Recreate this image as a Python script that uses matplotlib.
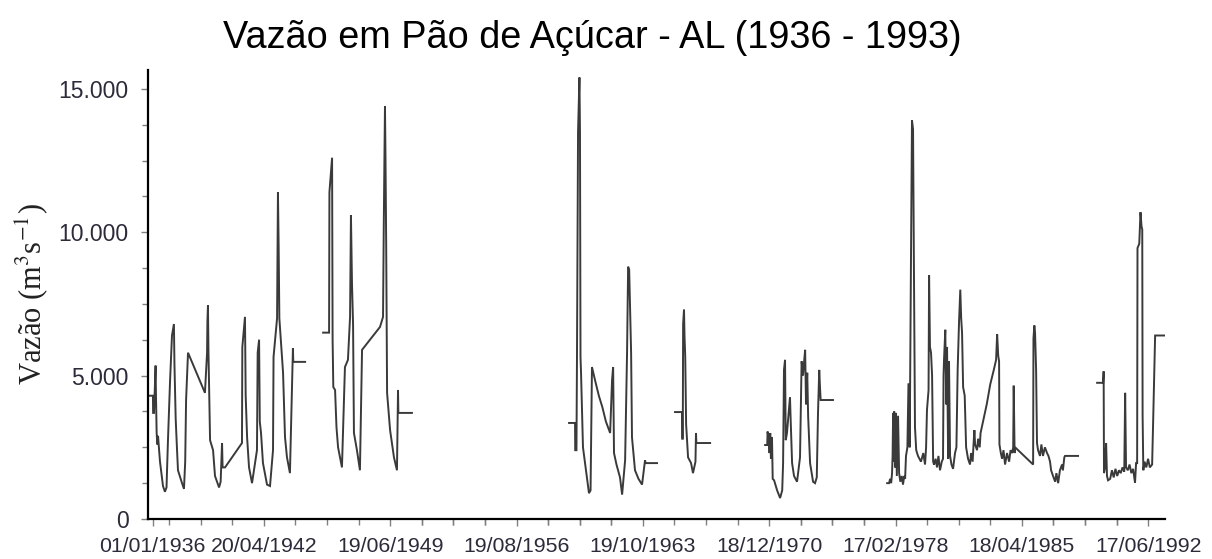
import matplotlib
matplotlib.use('Agg')
import matplotlib.pyplot as plt
import numpy as np
from datetime import date

plt.rcParams['mathtext.fontset'] = 'stix'

# Daily discharge (decimal year, m3/s); gaps = no data
anos_1936 = [1935.84, 1936.01, 1936.02, 1936.07, 1936.16, 1936.18, 1936.22, 1936.26, 1936.30,
             1936.36, 1936.41, 1936.47, 1936.58, 1936.69, 1936.78, 1936.86, 1936.98, 1937.09,
             1937.20, 1937.23, 1937.30, 1937.37, 1937.43, 1937.66, 1937.77, 1937.84, 1937.89,
             1938.00, 1938.96, 1939.08, 1939.10, 1939.13, 1939.16, 1939.25, 1939.42, 1939.53,
             1939.76, 1939.85, 1939.93, 1939.96, 1940.10, 1941.06, 1941.08, 1941.23, 1941.27,
             1941.35, 1941.46, 1941.63, 1941.91, 1941.95, 1942.03, 1942.07, 1942.14, 1942.25,
             1942.48, 1942.65, 1942.82, 1942.85, 1943.05, 1943.10, 1943.14, 1943.18, 1943.39,
             1943.50, 1943.61, 1943.78, 1943.95, 1943.97, 1944.64]
vazao_1936 = [4300, 4300, 3700, 3700, 5350, 4400, 3000, 2600, 2900,
              2400, 2000, 1700, 1150, 950, 1100, 2700, 4800, 6400,
              6800, 5400, 3500, 2500, 1700, 1250, 1050, 2000, 4150,
              5800, 4400, 5800, 6900, 7450, 5800, 2750, 2400, 1500,
              1100, 1300, 2650, 1800, 1800, 2650, 6000, 7050, 4300,
              2850, 1800, 1250, 2400, 5800, 6250, 3400, 3000, 1950,
              1200, 1150, 2400, 5650, 7000, 11400, 9500, 7000, 5100,
              2860, 2160, 1600, 5960, 5480, 5480]

anos_1945 = [1945.66, 1946.00, 1946.02, 1946.17, 1946.20, 1946.24, 1946.34, 1946.42, 1946.51,
             1946.73, 1946.90, 1947.07, 1947.19, 1947.24, 1947.30, 1947.36, 1947.41, 1947.58,
             1947.75, 1947.87, 1948.89, 1949.06, 1949.10, 1949.14, 1949.17, 1949.20, 1949.24,
             1949.29, 1949.46, 1949.68, 1949.85, 1949.91, 1949.93, 1950.70]
vazao_1945 = [6500, 6500, 11400, 12600, 6250, 4600, 4500, 3200, 2500,
              1800, 5300, 5550, 7050, 10600, 8200, 6800, 3000, 2400,
              1700, 5900, 6700, 7050, 10100, 12600, 14400, 12600, 9500,
              4400, 3100, 2150, 1700, 4500, 3700, 3700]

anos_1959 = [1959.61, 1959.95, 1959.96, 1960.03, 1960.06, 1960.12, 1960.20, 1960.23, 1960.26,
             1960.29, 1960.40, 1960.57, 1960.74, 1960.83, 1960.91, 1961.10, 1961.30, 1961.50,
             1961.70, 1961.94, 1962.05, 1962.11, 1962.16, 1962.30, 1962.50, 1962.62, 1962.79,
             1962.90, 1962.96, 1963.02, 1963.13, 1963.18, 1963.35, 1963.55, 1963.75, 1963.92,
             1963.95, 1964.60]
vazao_1959 = [3350, 3350, 2400, 2400, 5650, 13500, 15400, 13500, 5650,
              5100, 2500, 1700, 900, 1000, 5300, 4800, 4300, 3900,
              3400, 3000, 4850, 5300, 2300, 1900, 1450, 850, 2050,
              5800, 8800, 8700, 5800, 2850, 1700, 1400, 1200, 2050,
              1950, 1950]

anos_1965 = [1965.62, 1966.02, 1966.03, 1966.06, 1966.08, 1966.13, 1966.16, 1966.20, 1966.25,
             1966.36, 1966.53, 1966.64, 1966.78, 1966.81, 1966.83, 1967.61]
vazao_1965 = [3730, 3730, 2800, 2800, 6800, 7300, 6350, 5650, 3300,
              2150, 1950, 1600, 2000, 3000, 2650, 2650]

anos_1970 = [1970.73, 1970.85, 1970.87, 1970.95, 1970.98, 1971.02, 1971.06, 1971.12, 1971.16,
             1971.24, 1971.41, 1971.58, 1971.70, 1971.75, 1971.80, 1971.86, 1971.90, 1971.97,
             1972.14, 1972.18, 1972.26, 1972.37, 1972.54, 1972.71, 1972.80, 1972.88, 1972.95,
             1973.00, 1973.05, 1973.12, 1973.17, 1973.28, 1973.45, 1973.56, 1973.66, 1973.73,
             1973.80, 1973.85, 1973.88, 1974.58]
vazao_1970 = [2580, 2580, 3050, 2700, 2300, 3000, 2100, 2860, 1400,
              1350, 1000, 730, 1000, 1950, 5200, 5550, 2750, 3000,
              4250, 3450, 1950, 1500, 1300, 2150, 5500, 5000, 5550,
              5900, 4000, 5100, 3600, 1950, 1300, 1250, 1450, 3700,
              5200, 4500, 4150, 4150]

anos_1977 = [1977.65, 1977.76, 1977.82, 1977.88, 1977.93, 1977.96, 1977.99, 1978.02, 1978.05,
             1978.10, 1978.15, 1978.20, 1978.27, 1978.33, 1978.40, 1978.48, 1978.55, 1978.62,
             1978.67, 1978.72, 1978.80, 1978.86, 1978.89, 1978.93, 1979.00, 1979.06, 1979.12,
             1979.17, 1979.23, 1979.30, 1979.40, 1979.57, 1979.70, 1979.80, 1979.86, 1979.91,
             1980.00, 1980.03, 1980.08, 1980.14, 1980.20, 1980.26, 1980.31, 1980.40, 1980.48,
             1980.56, 1980.65, 1980.75, 1980.82, 1980.85, 1980.88, 1980.95, 1981.00, 1981.05,
             1981.11, 1981.16, 1981.22, 1981.30, 1981.39, 1981.50, 1981.58, 1981.65, 1981.73,
             1981.80, 1981.85, 1981.90, 1981.96, 1982.05, 1982.13, 1982.24, 1982.35, 1982.41,
             1982.50, 1982.55, 1982.60, 1982.64, 1982.75, 1982.81, 1982.90, 1982.95, 1983.09,
             1983.30, 1983.50, 1983.70, 1983.83, 1983.89, 1983.95, 1984.00, 1984.02, 1984.10,
             1984.17, 1984.25, 1984.34, 1984.45, 1984.57, 1984.65, 1984.74, 1984.80, 1984.83,
             1984.88, 1984.91, 1985.93, 1985.95, 1986.00, 1986.04, 1986.10, 1986.15, 1986.21,
             1986.32, 1986.40, 1986.49, 1986.60, 1986.72, 1986.80, 1986.89, 1986.95, 1987.06,
             1987.18, 1987.25, 1987.35, 1987.45, 1987.57, 1987.62, 1987.70, 1987.74, 1988.48]
vazao_1977 = [1250, 1250, 1400, 1250, 1600, 2200, 3700, 2000, 3750,
              1800, 3700, 1500, 3600, 1600, 1300, 1500, 1200, 1500,
              1400, 2200, 2500, 4700, 4700, 2500, 8800, 13900, 13600,
              8800, 3200, 2400, 2200, 2000, 2300, 1900, 2500, 3800,
              4500, 8500, 6000, 5800, 5000, 2000, 1900, 2100, 1800,
              2200, 1700, 2000, 2100, 5000, 5600, 6600, 4000, 6000,
              2100, 5500, 2200, 1900, 1750, 2300, 2500, 5200, 6900,
              8000, 7000, 6500, 4600, 4300, 2500, 2100, 1900, 2300,
              2000, 2600, 3100, 2600, 2400, 2800, 2500, 3000, 3400,
              4000, 4700, 5200, 5550, 6450, 5700, 5500, 2600, 2300,
              2100, 2400, 1900, 2300, 2000, 2400, 2300, 2500, 4650,
              2300, 2500, 1900, 6300, 6750, 6500, 5200, 2650, 2400,
              2200, 2600, 2200, 2500, 2300, 2200, 2000, 1700, 1500,
              1300, 1600, 1250, 1700, 1900, 1700, 2150, 2200, 2200]

anos_1989 = [1989.56, 1989.90, 1989.93, 1989.95, 1990.01, 1990.07, 1990.12, 1990.18, 1990.30,
             1990.40, 1990.50, 1990.60, 1990.70, 1990.80, 1990.90, 1991.00, 1991.10, 1991.15,
             1991.20, 1991.30, 1991.40, 1991.50, 1991.60, 1991.71, 1991.77, 1991.83, 1991.85,
             1991.95, 1992.02, 1992.08, 1992.12, 1992.14, 1992.18, 1992.25, 1992.35, 1992.45,
             1992.55, 1992.68, 1992.73, 1992.85, 1993.41]
vazao_1989 = [4750, 4750, 5150, 1600, 1800, 2650, 1500, 1350, 1400,
              1700, 1450, 1750, 1500, 1700, 1600, 1800, 1650, 4400,
              1800, 1700, 1900, 1600, 1750, 1260, 1950, 1950, 9450,
              9600, 10700, 10200, 10100, 3600, 1700, 2000, 1800, 2100,
              1800, 1900, 3200, 6400, 6400]

trechos = [(anos_1936, vazao_1936), (anos_1945, vazao_1945), (anos_1959, vazao_1959),
           (anos_1965, vazao_1965), (anos_1970, vazao_1970), (anos_1977, vazao_1977),
           (anos_1989, vazao_1989)]

datas_rotulo = ['01/01/1936', '20/04/1942', '19/06/1949', '19/08/1956', '19/10/1963',
                '18/12/1970', '17/02/1978', '18/04/1985', '17/06/1992']


def ano_decimal(txt):
    d, m, a = (int(p) for p in txt.split('/'))
    inicio = date(a, 1, 1)
    dias_ano = (date(a + 1, 1, 1) - inicio).days
    return a + (date(a, m, d) - inicio).days / dias_ano


fig = plt.figure(figsize=(12.12, 5.59), dpi=100)
ax = fig.add_axes([148 / 1212, 40 / 559, (1165 - 148) / 1212, 449 / 559])

for anos, vazao in trechos:
    ax.plot(anos, vazao, color='#3a3a3a', lw=1.4, solid_joinstyle='miter')

ax.set_xlim(1935.73, 1993.41)
ax.set_ylim(0, 15660)

# x ticks: labelled dates plus three minor ticks between them
pos = [ano_decimal(t) for t in datas_rotulo]
passo = pos[2] - pos[1]
ax.set_xticks(pos)
ax.set_xticklabels(datas_rotulo)
menores = [p + k * passo / 4 for p in pos[1:] for k in (-3, -2, -1, 1, 2, 3)]
menores = sorted(set(round(m, 4) for m in menores if 1935.73 <= m <= 1993.41 and
                     all(abs(m - p) > 0.1 for p in pos)))
ax.set_xticks(menores, minor=True)

ax.set_yticks([0, 5000, 10000, 15000])
ax.set_yticklabels(['0', '5.000', '10.000', '15.000'])
ax.set_yticks(np.arange(1250, 15000, 1250), minor=True)

for s in ['top', 'right']:
    ax.spines[s].set_visible(False)
for s in ['left', 'bottom']:
    ax.spines[s].set_linewidth(1.6)
    ax.spines[s].set_color('black')

ax.tick_params(which='both', direction='out', color='#808080', width=1)
ax.tick_params(which='major', length=5)
ax.tick_params(which='minor', length=4)
ax.tick_params(axis='y', labelsize=16.5, labelcolor='#2b2b3a', pad=9)
ax.tick_params(axis='x', labelsize=15.3, labelcolor='#2b2b3a', pad=8)
for lbl in ax.get_xticklabels() + ax.get_yticklabels():
    lbl.set_family('Liberation Sans')

ax.set_ylabel('Vazão (m$^3$s$^{-1}$)', family='Liberation Serif', fontsize=22,
              color='#222222', labelpad=6)

fig.text(592 / 1212, 1 - 38 / 559, 'Vazão em Pão de Açúcar - AL (1936 - 1993)',
         family='Liberation Sans', fontsize=27.3, ha='center', va='center')

fig.savefig('out.png', dpi=100)
